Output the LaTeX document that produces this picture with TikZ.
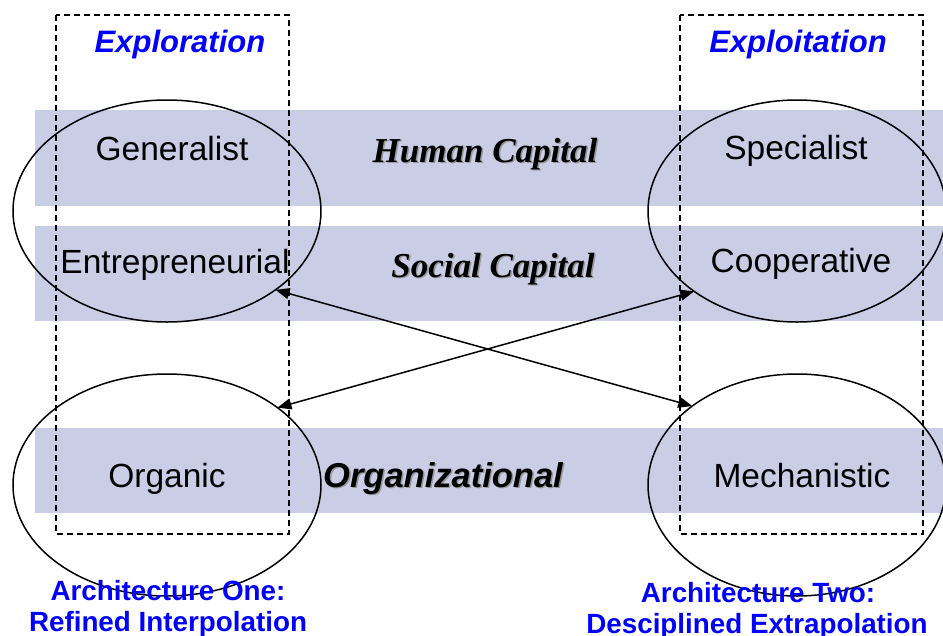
\documentclass[tikz,border=0pt]{standalone}
\usepackage{fontspec}
\setmainfont{Liberation Sans}
\newfontfamily\timesf{Liberation Serif}
\usetikzlibrary{arrows.meta,shapes.geometric}
\definecolor{bandc}{RGB}{201,205,230}
\definecolor{shadowc}{RGB}{150,150,150}
\definecolor{headblue}{RGB}{0,0,255}
\tikzset{
  band/.style={fill=bandc, draw=none},
  ell/.style={draw=black, ellipse, line width=1.5pt, inner sep=0pt, outer sep=0pt, minimum height=222pt},
  dbox/.style={draw=black, line width=1.5pt, dash pattern=on 6pt off 4pt},
  lab/.style={anchor=base, inner sep=0pt, font=\fontsize{33.5}{36}\selectfont},
  head/.style={anchor=base, inner sep=0pt, text=headblue, font=\fontsize{31}{34}\selectfont\bfseries\itshape},
  capital/.style={anchor=base, inner sep=0pt, font=\fontsize{35}{38}\selectfont\timesf\bfseries\itshape},
  orgf/.style={anchor=base, inner sep=0pt, font=\fontsize{34.5}{38}\selectfont\bfseries\itshape},
  shad/.style={text=shadowc},
  arch/.style={anchor=base, inner sep=0pt, text=headblue, font=\fontsize{27.8}{30}\selectfont\bfseries},
  arr/.style={line width=1.5pt, {Triangle[length=14pt,width=11pt]}-{Triangle[length=14pt,width=11pt]}}
}
\begin{document}
\begin{tikzpicture}[x=1pt,y=-1pt]
\useasboundingbox (0,0) rectangle (943,635);
% bands
\path[band] (35,110) rectangle (943,206);
\path[band] (35,226) rectangle (943,321);
\path[band] (35,428) rectangle (943,513);
% ellipses
\node[ell, minimum width=308pt] (tl) at (167,211) {};
\node[ell, minimum width=298pt] (tr) at (797,211) {};
\node[ell, minimum width=308pt] (bl) at (167,485) {};
\node[ell, minimum width=298pt] (br) at (797,485) {};
% row texts
\node[lab] (gen) at (172,160) {Generalist};
\node[lab] (ent) at (175,273) {Entrepreneurial};
\node[lab] (spe) at (796,159) {Specialist};
\node[lab] (coo) at (801,272) {Cooperative};
\node[lab] (org) at (167,487) {Organic};
\node[lab] (mec) at (802,487) {Mechanistic};
% capital labels with shadow
\node[capital, shad] (hcs) at (486.5,163.5) {Human Capital};
\node[capital] (hc) at (485,162) {Human Capital};
\node[capital, shad] (scs) at (494.5,278.5) {Social Capital};
\node[capital] (sc) at (493,277) {Social Capital};
\node[orgf, shad] (ozs) at (444.5,488.5) {Organizational};
\node[orgf] (oz) at (443,487) {Organizational};
% headings
\node[head] (expl) at (180,52) {Exploration};
\node[head] (expt) at (798,52) {Exploitation};
% dashed boxes
\draw[dbox] (56,15) rectangle (289,534);
\draw[dbox] (680,15) rectangle (923,534);
% arrows
\draw[arr] (tl.-36) -- (br.143);
\draw[arr] (tr.-142) -- (bl.35);
% architecture labels
\node[arch] (a1) at (168,600) {Architecture One:};
\node[arch] (a1b) at (168,631) {Refined Interpolation};
\node[arch] (a2) at (758,602) {Architecture Two:};
\node[arch] (a2b) at (757,633) {Desciplined Extrapolation};
\end{tikzpicture}
\end{document}
